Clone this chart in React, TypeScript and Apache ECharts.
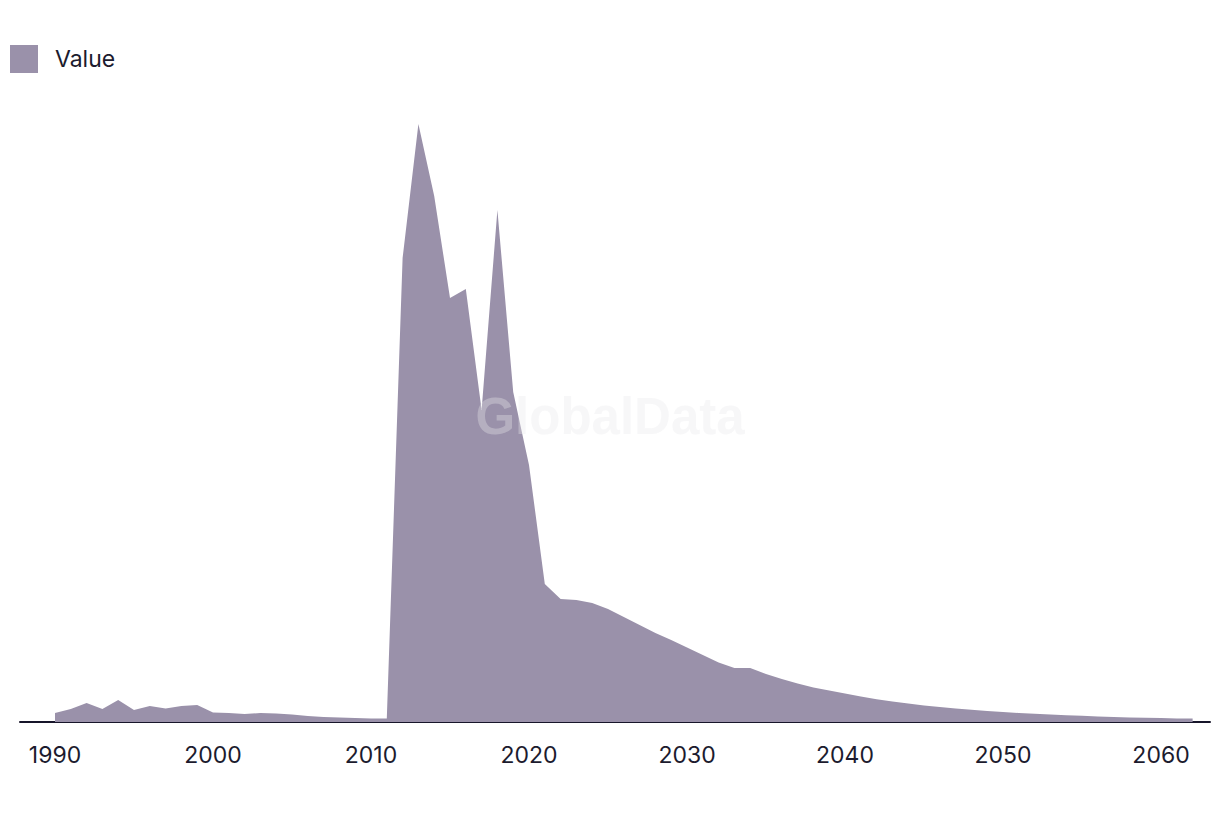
import React, { useEffect, useRef } from "react";
import * as echarts from "echarts";

const years: number[] = [];
for (let y = 1990; y <= 2062; y++) years.push(y);

const values: number[] = [
  // 1990-1999
  9, 13, 19, 13, 22, 12, 16, 13.5, 16, 17,
  // 2000-2009
  9.5, 9, 8, 9, 8.5, 7.5, 6, 5, 4.5, 4,
  // 2010-2019
  3.5, 3.5, 464, 598, 526, 424, 433, 312, 512, 330,
  // 2020-2029
  257, 138, 123, 122, 119, 113, 105, 97, 89, 82,
  // 2030-2039
  74.5, 67, 59.5, 54, 54, 48, 43, 38.5, 34.5, 31.5,
  // 2040-2049
  28.5, 25.5, 22.8, 20.5, 18.5, 16.5, 15, 13.5, 12.2, 11,
  // 2050-2059
  10, 9, 8.2, 7.5, 6.8, 6.2, 5.5, 5, 4.6, 4.2,
  // 2060-2062
  3.9, 3.6, 3.4,
];

const tickYears: number[] = [1990, 2000, 2010, 2020, 2030, 2040, 2050, 2060];

export default function App() {
  const ref = useRef<HTMLDivElement>(null);
  useEffect(() => {
    if (!ref.current) return;
    const chart = echarts.init(ref.current, undefined, { renderer: "svg" });
    const data = years.map((y, i) => [y, values[i]]);
    chart.setOption({
      animation: false,
      legend: {
        left: 2,
        top: 37,
        padding: 0,
        itemWidth: 28,
        itemHeight: 28,
        icon: "rect",
        textStyle: { fontSize: 23, color: "#1c1b2e", fontFamily: "Inter", padding: [0, 0, 0, 12] },
        data: ["Value"],
      },
      grid: { left: 12, right: 2, top: 116, bottom: 86 },
      xAxis: {
        type: "value",
        min: 1987.785,
        max: 2063.1,
        splitLine: { show: false },
        axisLine: { show: true, lineStyle: { color: "#17152a", width: 2 } },
        axisTick: { show: false },
        axisLabel: {
          customValues: tickYears,
          fontSize: 23,
          color: "#1c1b2e",
          fontFamily: "Inter",
          margin: 21,
          formatter: (v: number) => String(v),
        },
      },
      yAxis: {
        type: "value",
        min: 0,
        max: 598,
        show: false,
        splitLine: { show: false },
      },
      graphic: [
        {
          type: "text",
          left: "center",
          top: 383,
          z: 100,
          style: {
            text: "GlobalData",
            fontSize: 51,
            fontWeight: "bold",
            fontFamily: "Liberation Sans",
            fill: "rgba(232,232,236,0.35)",
          },
        },
      ],
      series: [
        {
          name: "Value",
          type: "line",
          data,
          symbol: "none",
          lineStyle: { width: 0 },
          itemStyle: { color: "#9a91aa" },
          areaStyle: { color: "#9a91aa", opacity: 1 },
        },
      ],
    });
    return () => chart.dispose();
  }, []);
  return <div ref={ref} style={{ width: 1204, height: 800 }} />;
}
